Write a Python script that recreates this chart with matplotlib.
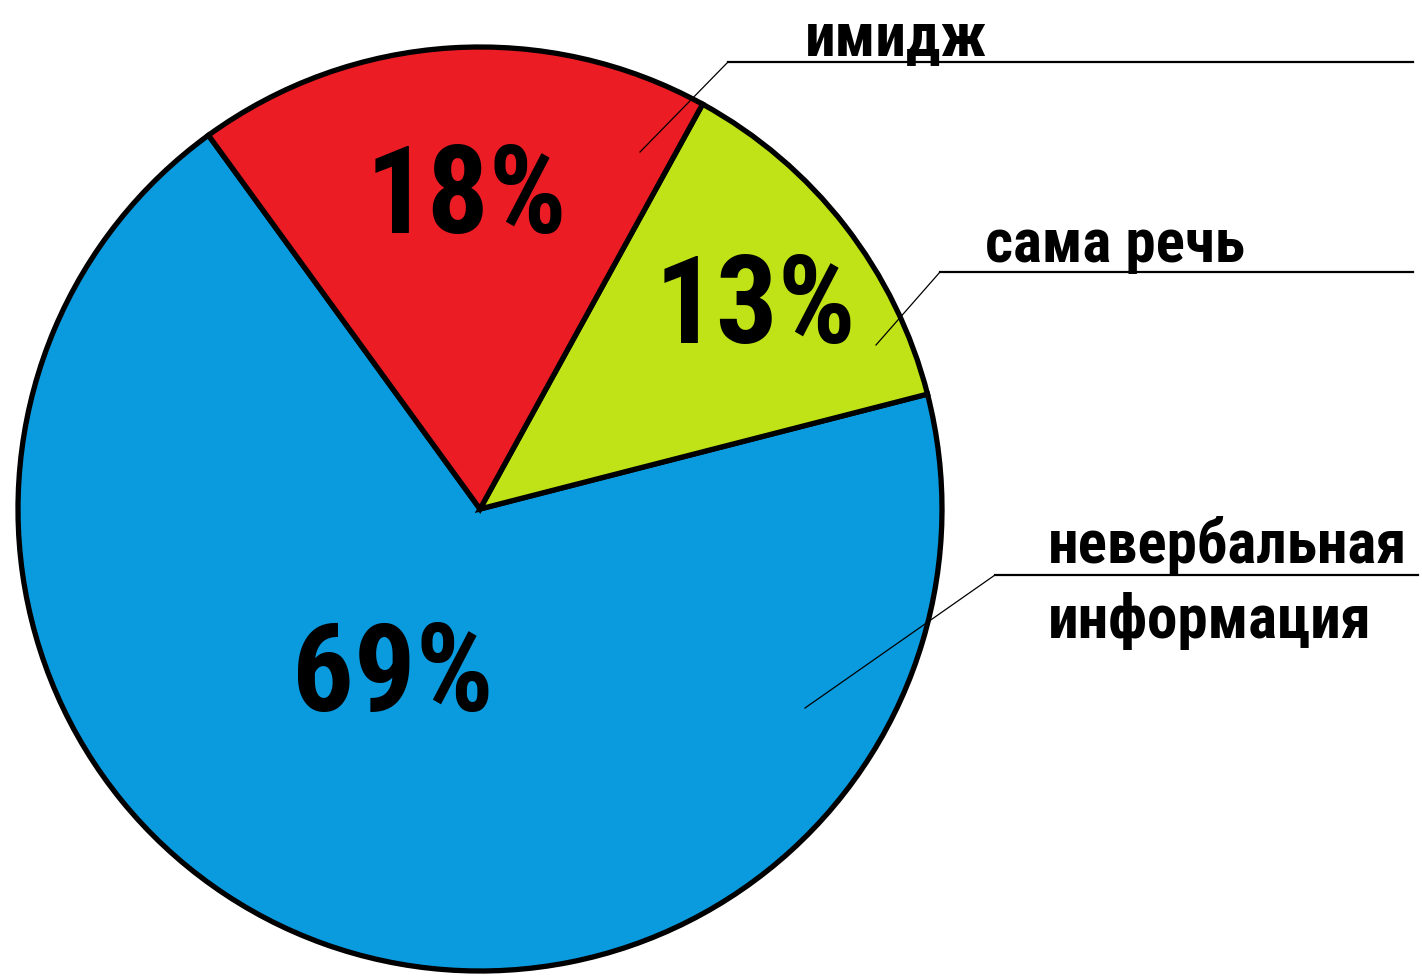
import matplotlib
matplotlib.use("Agg")
import matplotlib.pyplot as plt
from matplotlib import font_manager

# данные
labels = ["невербальная\nинформация", "сама речь", "имидж"]
values = [69, 13, 18]
colors = ["#0A9BDF", "#BFE316", "#EC1C24"]

W, H = 1422, 980

# ищем узкий жирный шрифт
found = []
for f in font_manager.fontManager.ttflist:
    fn = f.fname.lower()
    if ("condensed" in fn or "narrow" in fn) and "bold" in fn and "italic" not in fn:
        found.append(f.fname)
found.sort()
prefer = ["robotocondensed-bold", "liberationsansnarrow-bold", "dejavusanscondensed-bold",
          "opensans_condensed-bold", "notosans-condensedbold"]
font_file = None
for p in prefer:
    for fn in found:
        if p in fn.lower().replace(" ", ""):
            font_file = fn
            break
    if font_file:
        break
if font_file is None and found:
    font_file = found[0]


def fp(size):
    if font_file:
        return font_manager.FontProperties(fname=font_file, size=size)
    return font_manager.FontProperties(family="DejaVu Sans", weight="bold", size=size * 0.8)


def py(y):
    return H - y


fig = plt.figure(figsize=(W / 100, H / 100), dpi=100)
ax = fig.add_axes([0, 0, 1, 1])

ax.pie(
    values,
    colors=colors,
    startangle=126,
    counterclock=True,
    center=(480, py(509)),
    radius=462,
    wedgeprops={"edgecolor": "black", "linewidth": 3.8},
    frame=True,
)
ax.set_xlim(0, W)
ax.set_ylim(0, H)
ax.set_aspect("equal")
ax.axis("off")

# подписи процентов
pct_pos = [(393, 678), (755, 309), (466, 200)]
for v, (x, y) in zip(values, pct_pos):
    ax.text(x, py(y), f"{v}%", ha="center", va="center", fontproperties=fp(88),
            color="black")

# выноски: (начало внутри, излом, конец линии, позиция текста)
callouts = [
    ((805, 708), (995, 575), 1418, (1048, 638)),
    ((876, 345), (940, 272), 1413, (985, 262)),
    ((640, 152), (728, 62), 1413, (805, 55)),
]
for lab, (p0, p1, xend, tpos) in zip(labels, callouts):
    ax.plot([p0[0], p1[0]], [py(p0[1]), py(p1[1])], color="black", lw=0.9)
    ax.plot([p1[0], xend], [py(p1[1]), py(p1[1])], color="black", lw=1.6)
    ax.text(tpos[0], py(tpos[1]), lab, ha="left", va="baseline", fontproperties=fp(44),
            color="black", linespacing=1.36)

fig.savefig("out.png", dpi=100)
